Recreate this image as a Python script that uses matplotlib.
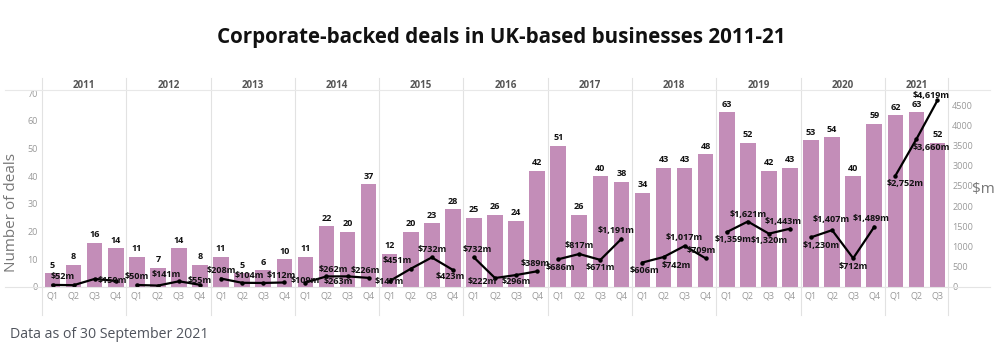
import numpy as np
import matplotlib.pyplot as plt

plt.rcParams['font.family'] = ['Open Sans', 'DejaVu Sans']

years = [str(y) for y in range(2011, 2022)]
quarters = ["Q1", "Q2", "Q3", "Q4"]

# deal counts per quarter, 2011 Q1 .. 2021 Q3
deals = [5, 8, 16, 14,
         11, 7, 14, 8,
         11, 5, 6, 10,
         11, 22, 20, 37,
         12, 20, 23, 28,
         25, 26, 24, 42,
         51, 26, 40, 38,
         34, 43, 43, 48,
         63, 52, 42, 43,
         53, 54, 40, 59,
         62, 63, 52]

# deal value in $m per quarter
value_m = [52, 45, 200, 150,
           50, 35, 141, 55,
           208, 104, 100, 112,
           109, 262, 263, 226,
           147, 451, 732, 423,
           732, 222, 296, 389,
           686, 817, 671, 1191,
           606, 742, 1017, 709,
           1359, 1621, 1320, 1443,
           1230, 1407, 712, 1489,
           2752, 3660, 4619]

# value labels hidden in the original (overlaps)
hidden = {1, 2, 5, 10}

# label offsets from the point, in pixels (dx right, dy down)
lab_off = [(10, -8), (0, 0), (0, 0), (-3, 0),
           (0, -8), (0, 0), (-13, -7), (0, -4),
           (0, -8), (7, -7), (0, 0), (-3, -7),
           (0, -2), (7, -7), (-9, 5), (-3, -7),
           (0, 0), (-13, -8), (0, -8), (-3, 7),
           (3, -8), (-13, 3), (0, 6), (-2, -8),
           (2, 8), (0, -8), (0, 8), (-5, -8),
           (2, 8), (13, 8), (0, -8), (-4, -8),
           (6, 7), (0, -7), (0, 7), (-7, -7),
           (10, 8), (-1, -11), (0, 8), (-3, -8),
           (10, 8), (15, 8), (-6, -5)]

n = len(deals)
x = np.arange(n)
year_idx = x // 4

fig = plt.figure(figsize=(9.97, 3.52), dpi=100)
W, H = 997, 352
ax = fig.add_axes([42 / W, 1 - 287 / H, (948 - 42) / W, (287 - 90) / H])
ax2 = ax.twinx()

bar_col = '#c38db8'
ax.bar(x, deals, width=0.74, color=bar_col, zorder=2)
for xi, d in zip(x, deals):
    ax.annotate(str(d), (xi, d), xytext=(0, 2.5), textcoords='offset points',
                ha='center', va='bottom', fontsize=6.5, fontweight='bold', color='#111')

ax.set_xlim(-0.5, n - 0.5)
ax.set_ylim(0, 71.1)
ax2.set_ylim(0, 4876)

for yr in range(len(years)):
    sel = year_idx == yr
    ax2.plot(x[sel], np.array(value_m)[sel], color='black', lw=1.6,
             marker='o', ms=2.2, zorder=5)

for i, v in enumerate(value_m):
    if i in hidden:
        continue
    dx, dy = lab_off[i]
    ax2.annotate(f"\\${v:,}m", (x[i], v), xytext=(dx * 0.72, -dy * 0.72),
                 textcoords='offset points', ha='center', va='center',
                 fontsize=6.5, fontweight='bold', color='#111', zorder=6)

# axes styling
for a in (ax, ax2):
    for s in a.spines.values():
        s.set_visible(False)
ax.set_yticks(np.arange(0, 71, 10))
ax2.set_yticks(np.arange(0, 4501, 500))
ax.tick_params(axis='y', length=0, labelsize=6.5, labelcolor='#999', pad=3)
ax2.tick_params(axis='y', length=0, labelsize=6.5, labelcolor='#999', pad=3)
ax.set_xticks(x)
ax.set_xticklabels([quarters[i % 4] for i in x])
ax.tick_params(axis='x', length=0, labelsize=6.5, labelcolor='#999', pad=3)

# baseline and header line
ax.axhline(0, color='#e4e4e4', lw=0.8, zorder=1)
fig.add_artist(plt.Line2D([5 / W, 990 / W], [1 - 90 / H, 1 - 90 / H],
                          color='#e8e8e8', lw=0.8))
fig.add_artist(plt.Line2D([5 / W, 990 / W], [1 - 287 / H, 1 - 287 / H],
                          color='#e4e4e4', lw=0.8))

# year separators and labels
xt = ax.get_xaxis_transform()
for yr in range(len(years) + 1):
    xs = min(yr * 4, n) - 0.5
    ax.plot([xs, xs], [-0.14, 1.06], transform=xt, color='#e2e2e2', lw=0.8,
            clip_on=False, zorder=0)
for yr, name in enumerate(years):
    last = min(yr * 4 + 4, n)
    ax.text((yr * 4 - 0.5 + last - 0.5) / 2, 1.025, name, transform=xt,
            ha='center', va='center', fontsize=7, fontweight='bold', color='#555')

fig.text(12 / W, 1 - 213 / H, "Number of deals", rotation=90, ha='center',
         va='center', fontsize=11, color='#777')
fig.text(983 / W, 1 - 190 / H, "\\$m", ha='center', va='center',
         fontsize=11, color='#777')

fig.text(501 / W, 1 - 38 / H, "Corporate-backed deals in UK-based businesses 2011-21",
         ha='center', va='center', fontsize=14.8, fontweight='bold', color='#111')
fig.text(10 / W, 1 - 334 / H, "Data as of 30 September 2021", ha='left',
         va='center', fontsize=10.2, color='#4f535c')

fig.savefig('out.png', dpi=100)
